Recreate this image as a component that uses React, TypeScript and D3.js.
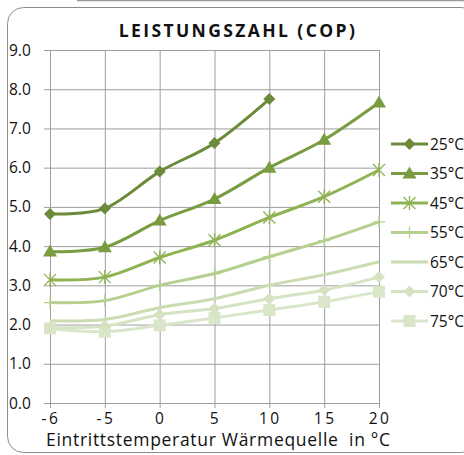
import React, { useEffect, useRef } from 'react';
import * as d3 from 'd3';

const categories = ['-6', '-5', '0', '5', '10', '15', '20'];
const yTicks = [0, 1, 2, 3, 4, 5, 6, 7, 8, 9];

const cop25 = [4.82, 4.96, 5.9, 6.63, 7.75];
const cop35 = [3.86, 3.97, 4.65, 5.2, 6.0, 6.71, 7.66];
const cop45 = [3.14, 3.21, 3.71, 4.15, 4.73, 5.26, 5.94];
const cop55 = [2.56, 2.61, 3.0, 3.3, 3.73, 4.14, 4.62];
const cop65 = [2.1, 2.13, 2.43, 2.66, 3.0, 3.27, 3.6];
const cop70 = [1.92, 1.96, 2.25, 2.41, 2.66, 2.88, 3.21];
const cop75 = [1.9, 1.82, 1.98, 2.17, 2.37, 2.58, 2.84];

const seriesNames = ['25°C', '35°C', '45°C', '55°C', '65°C', '70°C', '75°C'];
const seriesValues = [cop25, cop35, cop45, cop55, cop65, cop70, cop75];
const seriesColors = ['#6b8a3a', '#7a9c40', '#8fb252', '#b5cf8f', '#cadcb0', '#d5e3c2', '#d9e6ca'];
const seriesMarkers = ['diamond', 'triangle', 'star', 'plus', 'none', 'diamond', 'square'];

const App: React.FC = () => {
  const svgRef = useRef<SVGSVGElement>(null);

  useEffect(() => {
    if (!svgRef.current) return;
    const svg = d3.select(svgRef.current);
    svg.selectAll('*').remove();

    const font = '"Open Sans", sans-serif';

    // outer frame
    svg.append('line')
      .attr('x1', 77).attr('x2', 464).attr('y1', 0.5).attr('y2', 0.5)
      .style('stroke', '#9a9a9a').style('stroke-width', 1.5);
    svg.append('rect')
      .attr('x', 7.5).attr('y', 7.5).attr('width', 470).attr('height', 445)
      .attr('rx', 16)
      .style('fill', 'white').style('stroke', '#8c8c8c').style('stroke-width', 1);

    const x = d3.scalePoint<string>().domain(categories).range([50, 379]);
    const y = d3.scaleLinear().domain([0, 9]).range([403, 50]);

    // grid
    svg.append('g').selectAll('line.h').data(yTicks).join('line')
      .attr('x1', 44).attr('x2', 379)
      .attr('y1', d => y(d) + 0.5).attr('y2', d => y(d) + 0.5)
      .style('stroke', '#9e9e9e').style('stroke-width', 1);
    svg.append('g').selectAll('line.v').data(categories).join('line')
      .attr('x1', d => x(d)! + 0.5).attr('x2', d => x(d)! + 0.5)
      .attr('y1', y(9)).attr('y2', y(0) + 5)
      .style('stroke', '#9e9e9e').style('stroke-width', 1);

    // y labels
    svg.append('g').selectAll('text').data(yTicks).join('text')
      .attr('x', 9).attr('y', d => y(d) + 5.5)
      .style('font-family', font).style('font-size', '15.5px').style('fill', '#111')
      .text(d => d.toFixed(1));

    // x labels
    svg.append('g').selectAll('text').data(categories).join('text')
      .attr('x', d => x(d)! + 1).attr('y', 424)
      .attr('text-anchor', 'middle')
      .style('font-family', font).style('font-size', '15.5px').style('fill', '#111')
      .style('letter-spacing', '2.5px')
      .text(d => d);

    svg.append('text')
      .attr('x', 46).attr('y', 446)
      .style('font-family', font).style('font-size', '17.5px').style('fill', '#111')
      .style('white-space', 'pre').style('letter-spacing', '0.7px')
      .text('Eintrittstemperatur Wärmequelle  in °C');

    svg.append('text')
      .attr('x', 238).attr('y', 37).attr('text-anchor', 'middle')
      .style('font-family', font).style('font-size', '17.5px').style('font-weight', 'bold')
      .style('letter-spacing', '2.4px').style('fill', '#111')
      .text('LEISTUNGSZAHL (COP)');

    const line = d3.line<number>()
      .x((_, i) => x(categories[i])!)
      .y(d => y(d))
      .curve(d3.curveCatmullRom.alpha(0));

    const drawMarker = (g: d3.Selection<SVGGElement, unknown, null, undefined>, type: string, cx: number, cy: number, color: string) => {
      if (type === 'diamond') {
        g.append('path').attr('d', `M${cx},${cy - 6}L${cx + 6},${cy}L${cx},${cy + 6}L${cx - 6},${cy}Z`).style('fill', color);
      } else if (type === 'triangle') {
        g.append('path').attr('d', `M${cx},${cy - 7}L${cx + 7},${cy + 5}L${cx - 7},${cy + 5}Z`).style('fill', color);
      } else if (type === 'square') {
        g.append('rect').attr('x', cx - 6).attr('y', cy - 6).attr('width', 12).attr('height', 12).style('fill', color);
      } else if (type === 'star') {
        g.append('path')
          .attr('d', `M${cx - 6},${cy - 6}L${cx + 6},${cy + 6}M${cx - 6},${cy + 6}L${cx + 6},${cy - 6}M${cx},${cy - 7}L${cx},${cy + 7}`)
          .style('stroke', color).style('stroke-width', 1.3).style('fill', 'none');
      } else if (type === 'plus') {
        g.append('path')
          .attr('d', `M${cx},${cy - 6}L${cx},${cy + 6}M${cx - 6},${cy}L${cx + 6},${cy}`)
          .style('stroke', color).style('stroke-width', 1.3).style('fill', 'none');
      }
    };

    // draw lighter series first so dark ones are on top
    const order = d3.range(seriesNames.length).reverse();
    order.forEach(si => {
      const g = svg.append('g');
      const color = seriesColors[si];
      g.append('path')
        .attr('d', line(seriesValues[si]))
        .style('fill', 'none').style('stroke', color).style('stroke-width', 3);
      seriesValues[si].forEach((v, i) => drawMarker(g, seriesMarkers[si], x(categories[i])!, y(v), color));
    });

    // legend
    const legendY = d3.scalePoint<string>().domain(seriesNames).range([144, 321]);
    seriesNames.forEach((name, si) => {
      const g = svg.append('g');
      const ly = legendY(name)!;
      const color = seriesColors[si];
      g.append('line').attr('x1', 391).attr('x2', 428).attr('y1', ly).attr('y2', ly)
        .style('stroke', color).style('stroke-width', 3);
      drawMarker(g, seriesMarkers[si], 409.5, ly, color);
      g.append('text').attr('x', 430).attr('y', ly + 5.5)
        .style('font-family', font).style('font-size', '15.5px').style('fill', '#111')
        .text(name);
    });
  }, []);

  return <svg ref={svgRef} width={464} height={455} style={{ position: 'absolute', left: 0, top: 0, background: 'white' }} />;
};

export default App;
